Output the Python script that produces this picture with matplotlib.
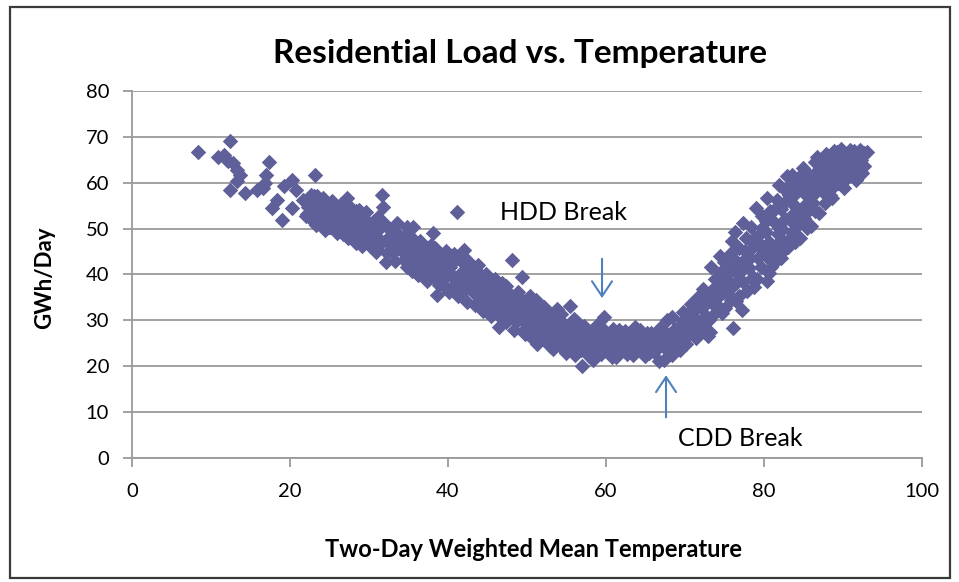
import matplotlib
matplotlib.use("Agg")
import matplotlib.pyplot as plt
from matplotlib.patches import Rectangle

plt.rcParams["font.family"] = ["Lato", "DejaVu Sans"]

# Cold-weather tail (isolated points at the far left)
tail_temp = [8.4, 12.4, 10.9, 12.0, 12.8, 13.3, 13.7, 13.3, 12.4, 14.3,
             15.8, 16.6, 17.3, 17.0, 16.8, 19.2, 20.2, 20.8, 18.3, 17.7,
             19.0, 20.2, 23.2, 21.7, 23.0, 11.6, 12.2]
tail_load = [66.7, 69.2, 65.7, 65.0, 64.3, 62.8, 61.7, 60.3, 58.5, 57.7,
             58.5, 58.8, 64.6, 61.7, 59.9, 59.2, 60.6, 58.5, 56.3, 54.5,
             51.9, 54.5, 61.7, 56.3, 57.0, 66.0, 64.8]

# Heating branch (load falls as temperature rises)
heating_temp = [
    22.1, 22.4, 22.8, 22.6, 22.3, 22.9, 22.0,
    23.1, 23.5, 23.8, 23.3, 23.9, 23.6, 23.2, 23.4,
    24.2, 24.5, 24.8, 24.4, 24.7, 24.1, 24.6, 24.9,
    25.1, 25.4, 25.7, 25.3, 25.9, 25.2, 25.6, 25.8,
    26.1, 26.4, 26.7, 26.3, 26.9, 26.2, 26.6, 26.8,
    27.2, 27.5, 27.8, 27.4, 27.6, 27.1, 27.3, 27.9,
    28.1, 28.4, 28.7, 28.3, 28.9, 28.2, 28.6, 28.8,
    29.3, 29.5, 29.8, 29.1, 29.6, 29.2, 29.4, 29.9,
    30.1, 30.4, 30.7, 30.3, 30.9, 30.2, 30.6, 30.8,
    31.4, 31.6, 31.2, 31.8, 31.0, 31.3, 31.7, 31.1,
    32.2, 32.5, 32.8, 32.3, 32.0, 32.6, 32.1, 32.9,
    33.1, 33.5, 33.8, 33.3, 33.6, 33.2, 33.9, 33.4,
    34.1, 34.4, 34.8, 34.8, 34.3, 34.2, 34.6, 34.9,
    35.2, 35.6, 35.9, 35.4, 35.1, 35.3, 35.7, 35.8,
    36.2, 36.5, 36.8, 36.4, 36.9, 36.1, 36.6, 36.3,
    37.1, 37.4, 37.7, 37.3, 37.9, 37.2, 37.6, 37.8,
    38.1, 38.4, 38.6, 38.7, 38.2, 38.9, 38.3, 38.5,
    39.1, 39.4, 39.7, 39.3, 39.8, 39.2, 39.6, 39.9,
    40.1, 40.4, 40.7, 40.3, 40.9, 40.2, 40.6, 40.8,
    41.1, 41.4, 41.7, 41.3, 41.8, 41.2, 41.6, 41.9,
    42.0, 42.3, 42.6, 42.4, 42.9, 42.2, 42.7, 42.8,
    43.1, 43.4, 43.7, 43.3, 43.8, 43.2, 43.6, 43.9,
    44.1, 44.4, 44.7, 44.3, 44.8, 44.2, 44.6, 44.9,
    45.1, 45.4, 45.7, 45.3, 45.9, 45.2, 45.6, 45.8,
    46.1, 46.4, 46.7, 46.3, 46.8, 46.2, 46.6, 46.9,
    47.1, 47.4, 47.7, 47.3, 47.8, 47.2, 47.6, 47.9,
    48.1, 48.4, 48.7, 48.3, 48.9, 48.2, 48.6, 48.8,
    49.1, 49.4, 49.7, 49.3, 49.8, 49.2, 49.6, 49.9,
    50.1, 50.4, 50.7, 50.3, 50.9, 50.2, 50.6, 50.8,
    51.1, 51.4, 51.7, 51.3, 51.8, 51.2, 51.6, 51.9,
    52.1, 52.4, 52.7, 52.3, 52.9, 52.2, 52.6, 52.8,
    53.1, 53.4, 53.7, 53.3, 53.8, 53.2, 53.6, 53.9,
    54.1, 54.4, 54.7, 54.3, 54.9, 54.2, 54.6, 54.8,
    55.1, 55.4, 55.7, 55.3, 55.9, 55.2, 55.6, 55.8,
    56.1, 56.4, 56.7, 56.3, 56.9, 56.2, 56.6, 56.8,
]
heating_load = [
    53.2, 55.8, 51.9, 57.4, 54.6, 56.1, 52.8,
    54.0, 56.2, 52.1, 50.8, 54.9, 53.4, 55.3, 57.0,
    56.6, 53.3, 51.0, 49.6, 55.1, 52.2, 54.4, 50.3,
    50.4, 54.2, 52.6, 56.0, 49.1, 53.0, 51.3, 55.0,
    51.9, 55.3, 48.7, 53.4, 50.8, 49.7, 54.3, 52.3,
    56.6, 49.7, 52.9, 47.9, 54.6, 51.3, 53.6, 50.9,
    51.1, 53.9, 48.5, 46.8, 50.3, 49.6, 52.4, 54.1,
    52.6, 48.3, 50.4, 46.2, 53.6, 47.5, 51.2, 49.1,
    46.1, 49.6, 51.7, 47.8, 44.9, 50.7, 48.6, 46.9,
    51.9, 57.4, 48.0, 54.8, 45.5, 49.8, 47.1, 52.6,
    42.8, 46.9, 49.4, 44.6, 51.0, 48.1, 47.4, 45.3,
    44.6, 51.2, 47.3, 42.9, 49.0, 48.2, 45.5, 46.1,
    45.8, 43.2, 41.7, 50.4, 48.1, 47.0, 44.5, 46.3,
    46.7, 50.4, 42.5, 40.8, 44.4, 48.2, 45.4, 43.6,
    39.9, 47.2, 44.8, 42.1, 40.5, 45.9, 43.3, 41.3,
    45.9, 38.6, 43.4, 41.0, 46.3, 42.2, 39.8, 44.7,
    49.0, 42.3, 35.5, 44.9, 39.1, 37.6, 45.8, 40.6,
    44.0, 40.2, 37.1, 42.5, 45.2, 38.5, 41.4, 43.6,
    36.2, 43.8, 39.4, 41.5, 37.8, 40.4, 42.6, 44.4,
    53.7, 38.5, 42.9, 35.2, 40.6, 37.0, 39.7, 43.9,
    45.3, 36.9, 41.6, 34.0, 39.0, 40.2, 37.8, 42.5,
    40.9, 33.4, 37.8, 35.9, 42.0, 39.0, 36.6, 40.3,
    38.9, 32.1, 36.4, 34.5, 40.1, 37.5, 35.4, 33.3,
    37.5, 30.9, 35.1, 33.2, 38.9, 36.2, 34.1, 31.8,
    36.7, 28.6, 33.8, 31.4, 38.2, 35.0, 32.7, 30.2,
    35.0, 29.6, 32.6, 37.4, 30.9, 33.7, 36.2, 31.6,
    43.2, 27.8, 33.9, 31.1, 36.2, 34.8, 29.5, 32.5,
    34.8, 39.5, 29.3, 32.0, 26.9, 30.7, 33.5, 28.2,
    30.6, 35.2, 25.8, 33.1, 28.4, 27.4, 31.9, 29.8,
    34.4, 27.1, 31.5, 24.9, 29.4, 32.7, 28.3, 26.2,
    32.8, 25.4, 30.0, 27.9, 24.3, 29.1, 26.7, 31.3,
    31.3, 26.6, 28.9, 23.8, 32.4, 27.8, 25.2, 30.1,
    24.6, 29.7, 27.2, 31.4, 22.9, 26.1, 28.5, 25.4,
    26.1, 33.0, 23.6, 28.5, 30.2, 24.9, 27.3, 29.4,
    22.4, 27.3, 25.0, 29.6, 23.4, 26.2, 28.4, 24.2,
]

# Flat trough between the two break points
trough_temp = [
    57.0, 57.3, 57.6, 57.2, 57.8, 57.4, 57.9,
    58.1, 58.4, 58.7, 58.3, 58.9, 58.2, 58.6,
    59.1, 59.4, 59.7, 59.3, 59.8, 59.2, 59.6,
    60.1, 60.4, 60.7, 60.3, 60.9, 60.2, 60.6,
    61.1, 61.4, 61.7, 61.3, 61.8, 61.2, 61.6,
    62.1, 62.4, 62.7, 62.3, 62.9, 62.2, 62.6,
    63.1, 63.4, 63.7, 63.3, 63.8, 63.2, 63.6,
    64.1, 64.4, 64.7, 64.3, 64.9, 64.2, 64.6,
    65.1, 65.4, 65.7, 65.3, 65.9, 65.2, 65.6,
    66.1, 66.4, 66.7, 66.3, 66.9, 66.2, 66.6,
    67.1, 67.3, 67.7, 67.5, 67.9, 67.2, 67.6,
    68.1, 68.4, 68.7, 68.3, 68.9, 68.2, 68.6,
]
trough_load = [
    19.9, 26.8, 24.1, 28.7, 22.2, 25.4, 27.5,
    23.0, 27.5, 25.3, 21.4, 28.9, 24.2, 26.4,
    26.3, 22.6, 30.8, 24.4, 27.9, 23.5, 25.4,
    23.9, 27.0, 22.0, 25.6, 28.1, 26.4, 24.7,
    26.4, 23.3, 27.8, 21.9, 25.1, 24.5, 26.9,
    24.2, 27.6, 22.6, 25.9, 23.8, 26.6, 25.0,
    26.7, 22.3, 28.6, 24.8, 25.7, 23.5, 27.3,
    23.5, 26.2, 24.9, 27.9, 22.1, 25.1, 27.0,
    25.6, 22.8, 27.3, 24.0, 26.5, 27.2, 23.7,
    23.1, 27.0, 21.0, 25.2, 28.3, 24.4, 26.0,
    24.6, 21.3, 30.1, 26.9, 23.2, 27.8, 25.4,
    25.8, 22.4, 28.0, 30.6, 24.3, 27.1, 26.2,
]

# Cooling branch (load climbs with temperature)
cooling_temp = [
    69.1, 69.4, 69.7, 69.3, 69.8, 69.2, 69.6, 69.9,
    70.1, 70.4, 70.7, 70.3, 70.9, 70.2, 70.6, 70.8,
    71.1, 71.4, 71.7, 71.3, 71.8, 71.2, 71.6, 71.9,
    72.1, 72.4, 72.7, 72.3, 72.9, 72.2, 72.6, 72.8,
    73.1, 73.4, 73.7, 73.3, 73.8, 73.2, 73.6, 73.9,
    74.1, 74.4, 74.7, 74.3, 74.9, 74.2, 74.6, 74.8,
    75.1, 75.4, 75.7, 75.3, 75.9, 75.2, 75.6, 75.8,
    76.1, 76.3, 76.7, 76.4, 76.9, 76.2, 76.6, 76.8,
    77.2, 77.4, 77.7, 77.3, 77.9, 77.1, 77.6, 77.8,
    78.1, 78.4, 78.7, 78.3, 78.9, 78.2, 78.6, 78.8,
    79.1, 79.4, 79.7, 79.3, 79.8, 79.2, 79.6, 79.9,
    80.1, 80.4, 80.7, 80.3, 80.9, 80.2, 80.6, 80.8,
    81.1, 81.4, 81.7, 81.3, 81.8, 81.2, 81.6, 81.9,
    82.1, 82.4, 82.7, 82.3, 82.9, 82.6, 82.2, 82.8,
    83.1, 83.4, 83.7, 83.3, 83.8, 83.2, 83.6, 83.9,
    84.1, 84.4, 84.6, 84.3, 84.9, 84.2, 84.7, 84.8,
    85.1, 85.4, 85.7, 85.3, 85.9, 85.2, 85.6, 85.8,
    86.1, 86.4, 86.7, 86.3, 86.9, 86.2, 86.6, 86.8,
    87.1, 87.4, 87.7, 87.3, 87.9, 87.2, 87.6, 87.8,
    88.1, 88.4, 88.7, 88.3, 88.9, 88.2, 88.6, 88.8,
    89.1, 89.4, 89.7, 89.3, 89.8, 89.2, 89.6, 89.9,
    90.1, 90.4, 90.7, 90.3, 90.9, 90.2, 90.6, 90.8,
    91.1, 91.4, 91.7, 91.3, 91.8, 91.2, 91.6, 91.9,
    92.1, 92.4, 92.7, 92.3, 93.0, 92.2, 92.6,
    80.6, 82.1, 83.9, 85.5, 87.0, 88.6, 90.1, 91.6, 74.4, 75.9,
    77.4, 79.0, 80.4, 81.9, 83.5, 85.0, 86.5, 76.8, 78.6, 83.0,
]
cooling_load = [
    27.2, 23.6, 29.9, 25.4, 31.8, 28.6, 26.3, 24.6,
    24.8, 28.4, 33.5, 26.6, 30.7, 29.7, 27.5, 32.0,
    32.1, 26.2, 35.0, 29.1, 27.6, 30.4, 33.3, 29.9,
    28.3, 34.2, 31.0, 36.9, 26.5, 32.6, 29.7, 35.4,
    30.1, 36.6, 33.4, 41.7, 39.0, 27.4, 35.1, 31.7,
    34.9, 40.3, 31.5, 37.6, 42.8, 33.2, 38.9, 36.1,
    32.6, 38.8, 44.5, 35.9, 41.2, 40.0, 37.2, 34.3,
    28.3, 49.3, 40.1, 34.2, 45.8, 37.6, 42.7, 39.0,
    32.2, 43.0, 47.9, 38.3, 36.4, 40.8, 45.2, 41.9,
    41.4, 50.3, 37.2, 45.6, 48.0, 43.6, 39.5, 46.8,
    39.0, 46.9, 52.7, 43.5, 50.1, 48.3, 41.7, 45.2,
    44.8, 38.5, 53.8, 49.2, 41.7, 51.6, 47.0, 43.1,
    51.6, 46.0, 56.2, 42.4, 48.7, 53.9, 44.3, 50.2,
    54.3, 45.1, 58.4, 49.9, 61.4, 52.0, 47.4, 56.0,
    47.5, 55.7, 51.2, 59.6, 53.3, 57.4, 49.3, 55.0,
    57.8, 50.9, 47.9, 61.0, 54.6, 53.1, 59.2, 51.8,
    52.4, 59.1, 55.8, 62.3, 50.6, 57.5, 53.9, 60.5,
    57.1, 53.9, 65.7, 60.4, 62.8, 55.6, 58.7, 61.6,
    58.8, 64.1, 55.6, 61.6, 66.2, 60.2, 63.0, 57.3,
    60.0, 57.4, 65.3, 62.9, 66.9, 64.3, 61.5, 59.1,
    63.6, 59.9, 67.3, 65.1, 61.7, 66.6, 62.5, 64.4,
    66.5, 62.4, 64.8, 60.6, 67.2, 63.6, 66.0, 61.9,
    65.6, 67.0, 60.6, 63.1, 66.3, 64.4, 62.1, 61.4,
    67.2, 62.2, 66.5, 64.9, 66.8, 65.6, 63.6,
    40.2, 43.6, 47.1, 50.2, 53.4, 56.6, 58.8, 60.9, 44.1, 47.2,
    51.1, 54.4, 56.6, 59.5, 61.6, 63.1, 64.6, 35.3, 38.8, 46.0,
]

x_ticks = [0, 20, 40, 60, 80, 100]
y_ticks = [0, 10, 20, 30, 40, 50, 60, 70, 80]

temps = tail_temp + heating_temp + trough_temp + cooling_temp
loads = tail_load + heating_load + trough_load + cooling_load

fig = plt.figure(figsize=(9.59, 5.82), dpi=100)
ax = fig.add_axes([0.1376, 0.2136, 0.8238, 0.630])

ax.scatter(temps, loads, marker="D", s=62, color="#5F5F99", linewidths=0, zorder=3)

ax.set_xlim(0, 100)
ax.set_ylim(0, 80)
ax.set_xticks(x_ticks)
ax.set_yticks(y_ticks)
ax.grid(axis="y", color="#9a9a9a", linewidth=1.3)
ax.set_axisbelow(True)
for side in ("top", "right"):
    ax.spines[side].set_visible(False)
for side in ("left", "bottom"):
    ax.spines[side].set_color("#9a9a9a")
    ax.spines[side].set_linewidth(1.3)
ax.tick_params(colors="#9a9a9a", length=6.5, width=1.3, labelcolor="black",
               labelsize=14.5)
ax.tick_params(axis="y", pad=10)
ax.tick_params(axis="x", pad=12)

fig.text(0.542, 0.908, "Residential Load vs. Temperature", ha="center", va="center",
         fontsize=24, fontweight="bold")
fig.text(0.047, 0.522, "GWh/Day", rotation=90, ha="center", va="center",
         fontsize=16, fontweight="bold")
fig.text(0.556, 0.055, "Two-Day Weighted Mean Temperature", ha="center", va="center",
         fontsize=17, fontweight="bold")

ax.text(46.6, 53.4, "HDD Break", fontsize=18, va="center", ha="left")
ax.text(69.1, 4.1, "CDD Break", fontsize=18, va="center", ha="left")
arrow = dict(arrowstyle="->,head_length=0.6,head_width=0.4", color="#4F81BD",
             lw=1.5, mutation_scale=18)
ax.annotate("", xy=(59.5, 34.2), xytext=(59.5, 44.0), arrowprops=arrow)
ax.annotate("", xy=(67.6, 18.6), xytext=(67.6, 8.2), arrowprops=arrow)

fig.patches.append(Rectangle((10 / 959, 4 / 582), 940 / 959, 571 / 582,
                             transform=fig.transFigure, fill=False,
                             edgecolor="#3a3a3a", linewidth=1.6))

fig.savefig("out.png", dpi=100)
